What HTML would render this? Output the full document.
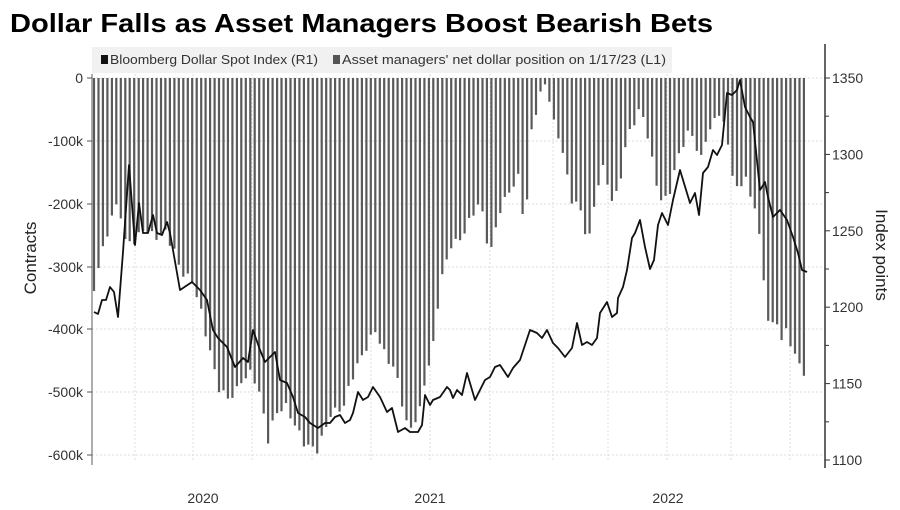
<!DOCTYPE html>
<html><head><meta charset="utf-8"><style>
body{margin:0;background:#fff;}
svg{display:block;font-family:"Liberation Sans",sans-serif;}
</style></head><body>
<svg id="s" width="900" height="510" viewBox="0 0 900 510" xmlns="http://www.w3.org/2000/svg">
<rect width="900" height="510" fill="#fff"/>
<text x="10" y="32" font-size="26" font-weight="bold" fill="#000" textLength="703" lengthAdjust="spacingAndGlyphs">Dollar Falls as Asset Managers Boost Bearish Bets</text>
<rect x="92" y="47" width="580" height="26" fill="#f1f1f1"/>
<rect x="101" y="55" width="7" height="9" fill="#111"/>
<text x="110" y="64" font-size="12.5" fill="#333" textLength="208" lengthAdjust="spacingAndGlyphs">Bloomberg Dollar Spot Index (R1)</text>
<rect x="333" y="55" width="7" height="9" fill="#555"/>
<text x="342" y="64" font-size="12.5" fill="#333" textLength="324" lengthAdjust="spacingAndGlyphs">Asset managers' net dollar position on 1/17/23 (L1)</text>
<g id="grid" stroke="#ddd" stroke-width="1" stroke-dasharray="2,2"></g>
<g id="bars" fill="#5a5a5a"></g>
<polyline id="line" fill="none" stroke="#111" stroke-width="1.8" stroke-linejoin="round"/>
<line x1="92" y1="74" x2="92" y2="465" stroke="#777" stroke-width="1.2"/>
<line x1="825" y1="44" x2="825" y2="468" stroke="#333" stroke-width="1.5"/>
<g id="ticks" font-size="14" fill="#333"></g>
<text transform="translate(36,258) rotate(-90)" font-size="17" fill="#222" text-anchor="middle">Contracts</text>
<text transform="translate(876,255) rotate(90)" font-size="17" fill="#222" text-anchor="middle">Index points</text>
<text x="203" y="503" font-size="14" fill="#333" text-anchor="middle">2020</text>
<text x="430" y="503" font-size="14" fill="#333" text-anchor="middle">2021</text>
<text x="668" y="503" font-size="14" fill="#333" text-anchor="middle">2022</text>
</svg>
<script>
var NS="http://www.w3.org/2000/svg";
function el(t,a,p){var e=document.createElementNS(NS,t);for(var k in a)e.setAttribute(k,a[k]);document.getElementById(p).appendChild(e);return e;}
var ly=[78,141,204,267,329,392,455];
ly.forEach(function(y){el('line',{x1:92,x2:825,y1:y,y2:y},'grid');});
[135,193,252,312,371,430,490,553,608,667,731,790].forEach(function(x){el('line',{x1:x,x2:x,y1:74,y2:462},'grid');});
var ll=['0','-100k','-200k','-300k','-400k','-500k','-600k'];
ll.forEach(function(s,i){var t=el('text',{x:83,y:ly[i]+5,'text-anchor':'end'},'ticks');t.textContent=s;
 el('line',{x1:87,x2:92,y1:ly[i],y2:ly[i],stroke:'#555'},'ticks');});
var rl=['1350','1300','1250','1200','1150','1100'];
rl.forEach(function(s,i){var y=78+i*76.4;var t=el('text',{x:832,y:y+5},'ticks');t.textContent=s;
 el('line',{x1:825,x2:830,y1:y,y2:y,stroke:'#333'},'ticks');
 if(i<5)el('line',{x1:825,x2:829,y1:y+38.2,y2:y+38.2,stroke:'#333'},'ticks');});
var bk=[[94,291],[99,262],[103,250],[108,232],[112,214],[117,207],[121,215],[126,245],[135,240],[145,228],[155,238],[165,232],[175,252],[180,270],[193,282],[198,300],[203,320],[208,345],[212,356],[217,387],[222,390],[227,400],[232,395],[237,390],[242,380],[252,372],[260,395],[268,440],[275,415],[285,405],[295,425],[305,445],[318,450],[330,415],[345,405],[350,382],[360,360],[370,340],[375,330],[385,355],[395,370],[400,390],[405,420],[410,430],[415,420],[420,410],[425,380],[430,360],[435,337],[440,280],[445,270],[450,245],[460,240],[470,220],[480,200],[485,230],[490,255],[500,210],[510,190],[520,175],[525,243],[530,140],[535,115],[540,95],[545,85],[550,100],[555,130],[560,140],[565,160],[570,200],[575,200],[580,210],[585,230],[590,237],[595,200],[600,175],[605,165],[610,200],[615,200],[620,180],[625,150],[630,130],[635,120],[640,110],[645,120],[650,150],[655,175],[660,200],[665,200],[670,190],[675,170],[680,150],[685,140],[690,130],[695,140],[700,165],[705,140],[710,130],[715,120],[720,110],[725,130],[730,155],[735,190],[740,190],[745,170],[750,200],[755,205],[760,240],[766,308],[771,328],[776,320],[781,338],[786,332],[791,345],[796,355],[801,372],[804,372]];
function interp(k,x){for(var i=0;i<k.length-1;i++){if(x>=k[i][0]&&x<=k[i+1][0]){var t=(x-k[i][0])/(k[i+1][0]-k[i][0]);return k[i][1]+t*(k[i+1][1]-k[i][1]);}}return k[k.length-1][1];}
for(var i=0;i<160;i++){var x=94+i*4.465;if(x>805)break;var y=interp(bk,x)+4*Math.sin(i*2.3);if(y<82)y=82;
 el('rect',{x:(x-1.1).toFixed(1),y:78,width:2.2,height:(y-78).toFixed(1)},'bars');}
var lp=[[94,312],[98,314],[102,300],[106,300],[110,287],[114,292],[118,317],[123,252],[129,165],[135,245],[139,203],[143,233],[148,233],[153,215],[157,233],[162,235],[167,222],[170,233],[180,290],[192,282],[200,290],[207,300],[213,330],[218,338],[227,347],[235,367],[243,358],[248,362],[253,330],[260,350],[265,362],[270,357],[275,352],[280,380],[287,383],[293,397],[298,413],[305,417],[310,423],[318,428],[325,423],[330,423],[335,417],[340,415],[345,423],[350,420],[353,413],[358,392],[363,400],[368,397],[373,387],[380,397],[387,412],[392,408],[398,432],[405,428],[410,432],[418,432],[422,425],[425,395],[430,405],[433,400],[440,397],[447,387],[450,390],[453,398],[457,390],[462,395],[467,373],[475,400],[485,380],[490,377],[495,367],[500,365],[508,377],[513,368],[520,360],[530,330],[537,333],[542,338],[547,330],[553,343],[558,348],[565,357],[572,348],[577,323],[582,345],[587,342],[592,345],[597,338],[600,313],[607,302],[612,317],[617,313],[618,298],[623,287],[627,270],[632,238],[635,233],[640,220],[645,247],[650,269],[654,260],[658,225],[662,213],[668,225],[673,200],[680,170],[690,203],[695,193],[699,215],[703,173],[708,167],[713,150],[717,155],[722,145],[727,93],[732,95],[737,90],[740,80],[745,107],[750,117],[753,122],[760,190],[762,187],[765,182],[768,197],[773,217],[780,210],[787,220],[793,237],[798,253],[802,270],[807,272]];
document.getElementById('line').setAttribute('points',lp.map(function(p){return p[0]+','+p[1];}).join(' '));
</script>
</body></html>
